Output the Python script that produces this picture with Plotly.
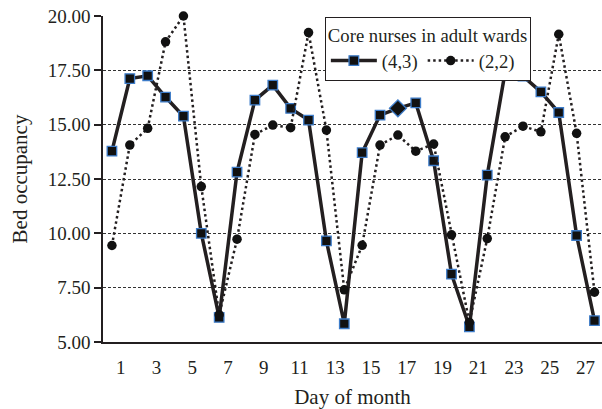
import plotly.graph_objects as go

days = list(range(1, 29))
nurses_4_3 = [13.78, 17.12, 17.25, 16.27, 15.39, 10.0, 6.13, 12.82, 16.13, 16.82,
              15.75, 15.21, 9.65, 5.84, 13.71, 15.44, 15.75, 16.0, 13.34, 8.12,
              5.7, 12.68, 17.43, 17.23, 16.51, 15.56, 9.9, 5.98]
nurses_2_2 = [9.44, 14.06, 14.83, 18.81, 20.0, 12.15, 6.25, 9.73, 14.55, 14.98,
              14.86, 19.24, 14.75, 7.4, 9.45, 14.06, 14.52, 13.78, 14.11, 9.93,
              5.9, 9.76, 14.44, 14.93, 14.67, 19.16, 14.6, 7.29]
symbols_4_3 = ["square"] * 28
symbols_4_3[16] = "diamond"
sizes_4_3 = [9.5] * 28
sizes_4_3[16] = 13

x_labels = [str(d) for d in range(1, 28, 2)]
x_label_pos = [d + 0.5 for d in range(1, 28, 2)]
x_tick_pos = [d + 0.5 for d in range(0, 28, 2)]
y_ticks = [5, 7.5, 10, 12.5, 15, 17.5, 20]

FONT = "Liberation Serif"
INK = "#231f20"

fig = go.Figure()
fig.add_trace(go.Scatter(
    x=days, y=nurses_4_3, name="(4,3)", mode="lines+markers",
    line=dict(color=INK, width=3.5),
    marker=dict(symbol=symbols_4_3, size=sizes_4_3, color="#111111", opacity=1,
                line=dict(color="#3d7cc9", width=1.3)),
    cliponaxis=False,
))
fig.add_trace(go.Scatter(
    x=days, y=nurses_2_2, name="(2,2)", mode="lines+markers",
    line=dict(color=INK, width=2.5, dash="2.5px,3px"),
    marker=dict(symbol="circle", size=9.5, color="#111111", opacity=1),
    cliponaxis=False,
))

fig.update_layout(
    width=602, height=409,
    margin=dict(l=103, r=0, t=16, b=67, autoexpand=False),
    paper_bgcolor="white", plot_bgcolor="white",
    font=dict(family=FONT, size=19, color=INK),
    xaxis=dict(
        range=[0.5, 28.42], tickmode="array", tickvals=x_label_pos, ticktext=x_labels,
        ticks="outside", ticklen=7, tickcolor="rgba(0,0,0,0)",
        showline=True, linecolor=INK, linewidth=1.5, showgrid=False, zeroline=False,
        tickfont=dict(size=19),
        title=dict(text="Day of month", font=dict(size=21), standoff=15),
    ),
    xaxis2=dict(
        overlaying="x", anchor="y", side="bottom", matches="x",
        range=[0.5, 28.42], tickmode="array", tickvals=x_tick_pos,
        ticks="outside", ticklen=7, tickwidth=1.5, tickcolor=INK,
        showticklabels=False, showline=False, showgrid=False, zeroline=False,
    ),
    yaxis=dict(
        range=[5, 20], tickmode="array", tickvals=y_ticks, tickformat=".2f",
        ticks="outside", ticklen=7, tickwidth=1.5, tickcolor=INK,
        showline=True, linecolor=INK, linewidth=1.5, zeroline=False,
        showgrid=True, gridcolor="#333333", gridwidth=1, griddash="3px,2px",
        tickfont=dict(size=19),
        title=dict(text="Bed occupancy", font=dict(size=21), standoff=14),
    ),
    legend=dict(
        orientation="h", x=0.4446, xanchor="left", y=0.998, yanchor="top",
        bgcolor="white", bordercolor=INK, borderwidth=1,
        font=dict(size=18.7),
        title=dict(text="Core nurses in adult wards", side="top", font=dict(size=18.7)),
        itemwidth=46, tracegroupgap=0,
    ),
)

fig.write_html("out.html", config={"displayModeBar": False},
               post_script="document.body.style.margin='0';")
